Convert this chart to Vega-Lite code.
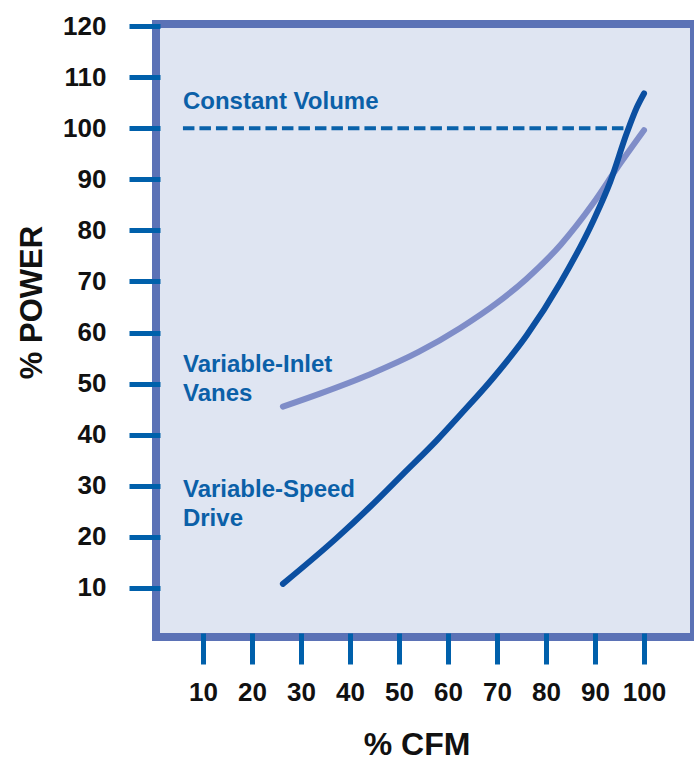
{
  "$schema": "https://vega.github.io/schema/vega-lite/v6.json",
  "width": 538,
  "height": 613,
  "autosize": {"type": "none"},
  "padding": {"left": 156, "top": 24, "right": 0, "bottom": 123},
  "background": "white",
  "title": {
    "text": "Comparison of Energy Savings",
    "anchor": "start",
    "frame": "group",
    "dx": 98,
    "offset": 5,
    "baseline": "alphabetic",
    "font": "Liberation Sans, Arial, sans-serif",
    "fontSize": 30,
    "fontWeight": "bold",
    "color": "#111111"
  },
  "config": {
    "view": {"fill": "#dfe5f2", "stroke": "#5b72b6", "strokeWidth": 8}
  },
  "datasets": {
    "viv": [
      {"cfm": 26.3, "power": 45.5},
      {"cfm": 34.0, "power": 48.1},
      {"cfm": 44.0, "power": 51.8},
      {"cfm": 54.0, "power": 56.2},
      {"cfm": 62.5, "power": 60.9},
      {"cfm": 70.0, "power": 65.8},
      {"cfm": 76.0, "power": 70.5},
      {"cfm": 83.0, "power": 77.2},
      {"cfm": 89.7, "power": 85.4},
      {"cfm": 94.5, "power": 92.2},
      {"cfm": 100.0, "power": 99.6}
    ],
    "vsd": [
      {"cfm": 26.3, "power": 10.8},
      {"cfm": 37.3, "power": 19.8},
      {"cfm": 44.1, "power": 25.9},
      {"cfm": 50.8, "power": 32.3},
      {"cfm": 57.7, "power": 38.9},
      {"cfm": 62.5, "power": 43.9},
      {"cfm": 69.2, "power": 51.1},
      {"cfm": 76.1, "power": 59.5},
      {"cfm": 82.9, "power": 69.7},
      {"cfm": 89.7, "power": 82.0},
      {"cfm": 93.1, "power": 89.5},
      {"cfm": 96.5, "power": 99.1},
      {"cfm": 98.5, "power": 104.0},
      {"cfm": 100.0, "power": 106.8}
    ],
    "cv": [
      {"cfm": 5.9, "power": 100},
      {"cfm": 96.3, "power": 100}
    ],
    "labels": [
      {"cfm": 5.9, "power": 103.8, "label": "Constant Volume"},
      {"cfm": 5.9, "power": 52.3, "label": "Variable-Inlet"},
      {"cfm": 5.9, "power": 46.6, "label": "Vanes"},
      {"cfm": 5.9, "power": 27.8, "label": "Variable-Speed"},
      {"cfm": 5.9, "power": 22.1, "label": "Drive"}
    ]
  },
  "encoding": {
    "x": {
      "field": "cfm",
      "type": "quantitative",
      "scale": {"domain": [0.4, 110.2], "nice": false, "zero": false},
      "axis": {
        "values": [10, 20, 30, 40, 50, 60, 70, 80, 90, 100],
        "title": "% CFM",
        "domain": false,
        "grid": false,
        "tickColor": "#0060ab",
        "tickWidth": 5,
        "tickSize": 31,
        "offset": -4,
        "labelFont": "Liberation Sans, Arial, sans-serif",
        "labelFontSize": 26,
        "labelFontWeight": "bold",
        "labelColor": "#111111",
        "labelPadding": 15,
        "labelFlush": false,
        "labelOverlap": false,
        "titleFont": "Liberation Sans, Arial, sans-serif",
        "titleFontSize": 32,
        "titleFontWeight": "bold",
        "titleColor": "#111111",
        "titleX": 260.5,
        "titleY": 121,
        "titleAlign": "center",
        "titleBaseline": "alphabetic"
      }
    },
    "y": {
      "field": "power",
      "type": "quantitative",
      "scale": {"domain": [0.4, 120.4], "nice": false, "zero": false},
      "axis": {
        "values": [10, 20, 30, 40, 50, 60, 70, 80, 90, 100, 110, 120],
        "title": "% POWER",
        "domain": false,
        "grid": false,
        "tickColor": "#0060ab",
        "tickWidth": 5,
        "tickSize": 31,
        "offset": -4,
        "labelFont": "Liberation Sans, Arial, sans-serif",
        "labelFontSize": 26,
        "labelFontWeight": "bold",
        "labelColor": "#111111",
        "labelPadding": 23,
        "labelFlush": false,
        "labelOverlap": false,
        "titleFont": "Liberation Sans, Arial, sans-serif",
        "titleFontSize": 31,
        "titleFontWeight": "bold",
        "titleColor": "#111111",
        "titleAngle": 270,
        "titleX": -119,
        "titleY": 278,
        "titleAlign": "center",
        "titleBaseline": "alphabetic"
      }
    }
  },
  "layer": [
    {
      "data": {"name": "viv"},
      "mark": {"type": "line", "color": "#7f8dc8", "strokeWidth": 6, "strokeCap": "round", "interpolate": "monotone"}
    },
    {
      "data": {"name": "vsd"},
      "mark": {"type": "line", "color": "#0b4fa1", "strokeWidth": 6, "strokeCap": "round", "interpolate": "monotone"}
    },
    {
      "data": {"name": "cv"},
      "mark": {"type": "line", "color": "#0a62aa", "strokeWidth": 4, "strokeDash": [11.5, 5]}
    },
    {
      "data": {"name": "labels"},
      "mark": {"type": "text", "align": "left", "baseline": "alphabetic", "font": "Liberation Sans, Arial, sans-serif", "fontSize": 24, "fontWeight": "bold", "color": "#0b60a8"},
      "encoding": {"text": {"field": "label"}}
    }
  ]
}
